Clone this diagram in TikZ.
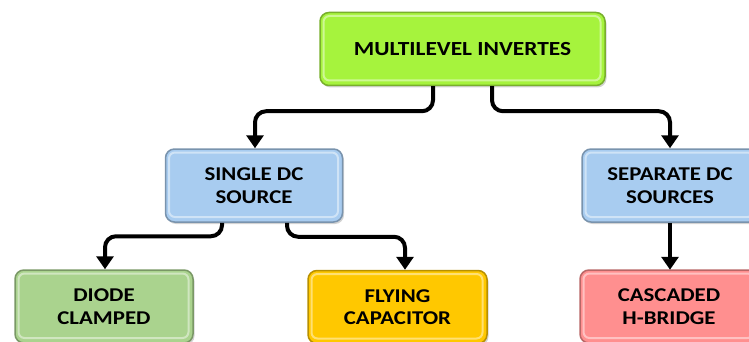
\documentclass[tikz,border=0pt]{standalone}
\usepackage{fontspec}
\setmainfont{Carlito}[FakeStretch=1.17]
\usetikzlibrary{arrows.meta,shadows,calc}
\definecolor{cTop}{HTML}{A6F33D}
\definecolor{cBlue}{HTML}{A8CCF0}
\definecolor{cGreen}{HTML}{AAD38E}
\definecolor{cYellow}{HTML}{FFC800}
\definecolor{cRed}{HTML}{FF8F8F}
\tikzset{
  boxbase/.style={rectangle, rounded corners=9pt, align=center,
    font=\fontsize{19.5}{22.5}\selectfont\bfseries,
    minimum height=73pt, inner sep=2pt, line width=1.5pt,
    drop shadow={shadow xshift=1.5pt, shadow yshift=-2pt, opacity=0.35}},
  colbox/.style={boxbase, fill=#1, draw=#1!72!black,
    path picture={\draw[white, opacity=0.45, line width=2pt, rounded corners=6pt]
      ($(path picture bounding box.north west)+(3.5pt,-3.5pt)$) rectangle
      ($(path picture bounding box.south east)+(-4.5pt,5pt)$);}},
  conn/.style={line width=4pt, rounded corners=11pt,
    -{Triangle[width=17pt,length=13pt]}}
}
\begin{document}
\begin{tikzpicture}[x=1pt,y=-1pt]
\useasboundingbox (0,0) rectangle (749,342);
\clip (0,0) rectangle (749,342);
\node[colbox=cTop, minimum width=285pt, font=\fontsize{20}{23}\selectfont\bfseries] (top) at (462.5,49) {MULTILEVEL INVERTES};
\node[colbox=cBlue, minimum width=177pt] (single) at (254,185.5) {SINGLE DC\\SOURCE};
\node[colbox=cBlue, minimum width=176pt] (separate) at (670,185.5) {SEPARATE DC\\SOURCES};
\node[colbox=cGreen, minimum width=178pt] (diode) at (104,306.5) {DIODE\\CLAMPED};
\node[colbox=cYellow, minimum width=179pt] (flying) at (397.5,307) {FLYING\\CAPACITOR};
\node[colbox=cRed, minimum width=178pt] (cascaded) at (669,306.5) {CASCADED\\H-BRIDGE};
\coordinate (tl) at ($(top.south)+(-29.5,0)$);
\coordinate (tr) at ($(top.south)+(29.5,0)$);
\coordinate (sl) at ($(single.south)+(-32,0)$);
\coordinate (sr) at ($(single.south)+(33,0)$);
\draw[conn] (tl) |- ($(single.north)+(1,-37)$) -- ($(single.north)+(1,0)$);
\draw[conn] (tr) |- ($(separate.north)+(0,-37)$) -- (separate.north);
\draw[conn] (sl) |- ($(diode.north)+(1,-33)$) -- ($(diode.north)+(1,0)$);
\draw[conn] (sr) |- ($(flying.north)+(7.5,-33)$) -- ($(flying.north)+(7.5,0)$);
\draw[conn] (separate.south) -- (separate.south |- flying.north);
\end{tikzpicture}
\end{document}
